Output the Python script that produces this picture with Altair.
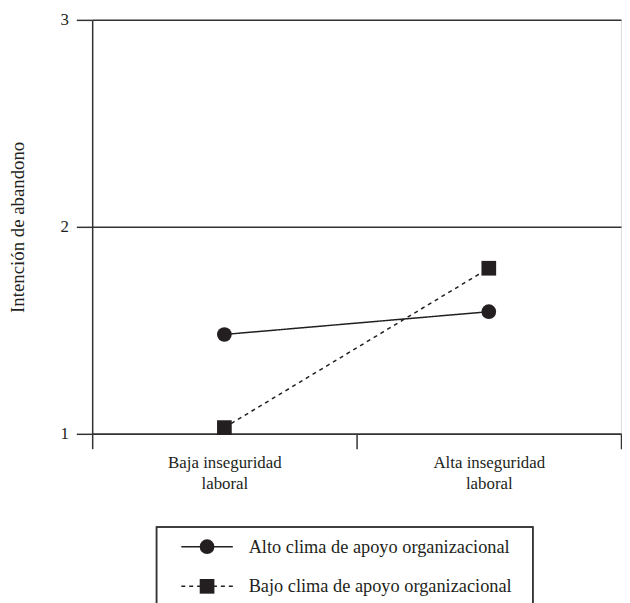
import altair as alt
import pandas as pd

categories = ["Baja inseguridad\nlaboral", "Alta inseguridad\nlaboral"]
series_names = ["Alto clima de apoyo organizacional", "Bajo clima de apoyo organizacional"]
alto_values = [1.48, 1.59]
bajo_values = [1.03, 1.80]
y_ticks = [1, 2, 3]

rows = []
for c, a, b in zip(categories, alto_values, bajo_values):
    rows.append({"cat": c, "serie": series_names[0], "valor": a})
    rows.append({"cat": c, "serie": series_names[1], "valor": b})
df = pd.DataFrame(rows)

FONT = "Times New Roman, Liberation Serif, serif"
INK = "#231f20"
W, H = 534, 418

shape_scale = alt.Scale(domain=series_names, range=["circle", "square"])
dash_scale = alt.Scale(domain=series_names, range=[[1, 0], [4, 4]])

x_enc = alt.X(
    "cat:N",
    sort=categories,
    scale=alt.Scale(paddingInner=0, paddingOuter=0),
    axis=alt.Axis(
        title=None,
        labelAngle=0,
        tickBand="extent",
        tickSize=15,
        tickColor="#333",
        tickWidth=1.5,
        domainColor="#333",
        domainWidth=1.5,
        labelExpr="split(datum.label, '\\n')",
        labelFont=FONT,
        labelFontSize=17,
        labelColor=INK,
        labelLineHeight=21,
        labelPadding=6,
        labelBaseline="top",
        grid=False,
    ),
)
y_enc = alt.Y(
    "valor:Q",
    scale=alt.Scale(domain=[1, 3], nice=False, zero=False),
    axis=alt.Axis(
        title="Intención de abandono",
        values=y_ticks,
        labelExpr="datum.value + ''",
        labelOverlap=False,
        tickSize=16,
        tickColor="#333",
        tickWidth=1.5,
        domainColor="#333",
        domainWidth=1.5,
        grid=True,
        gridColor="#333",
        gridWidth=1.5,
        labelFont=FONT,
        labelFontSize=17,
        labelColor=INK,
        labelPadding=8,
        titleFont=FONT,
        titleFontSize=19,
        titleFontWeight="normal",
        titleColor=INK,
        titlePadding=33,
    ),
)

lines = alt.Chart(df).mark_line(color=INK, strokeWidth=1.5).encode(
    x=x_enc,
    y=y_enc,
    detail="serie:N",
    strokeDash=alt.StrokeDash("serie:N", scale=dash_scale, legend=None),
)
points = alt.Chart(df).mark_point(filled=True, color=INK, opacity=1, size=220).encode(
    x=x_enc,
    y=y_enc,
    shape=alt.Shape("serie:N", scale=shape_scale, legend=None),
)

leg_df = pd.DataFrame({"serie": series_names})
legend_layers = []
box = alt.Chart(leg_df).mark_rect(fill=None, stroke="#333", strokeWidth=1.5, clip=False).encode(
    x=alt.value(65), x2=alt.value(445), y=alt.value(512), y2=alt.value(600)
)
legend_layers.append(box)
row_y = [532, 572]
for name, ry in zip(series_names, row_y):
    sub = alt.Chart(leg_df).transform_filter(alt.datum.serie == name)
    legend_layers.append(
        sub.mark_rule(color=INK, strokeWidth=1.5, clip=False).encode(
            x=alt.value(90), x2=alt.value(142), y=alt.value(ry),
            strokeDash=alt.StrokeDash("serie:N", scale=dash_scale, legend=None),
        )
    )
    legend_layers.append(
        sub.mark_point(filled=True, color=INK, opacity=1, size=220, clip=False).encode(
            x=alt.value(116), y=alt.value(ry),
            shape=alt.Shape("serie:N", scale=shape_scale, legend=None),
        )
    )
    legend_layers.append(
        sub.mark_text(align="left", baseline="middle", font=FONT, fontSize=18.5, color=INK, clip=False).encode(
            x=alt.value(158), y=alt.value(ry), text="serie:N"
        )
    )

chart = alt.layer(lines, points, *legend_layers).properties(
    width=W, height=H, padding={"left": 0, "top": 0, "right": 0, "bottom": 0}
).configure_view(stroke="#333", strokeWidth=1.5).configure(background="white")

chart.save("out.html", embed_options={"renderer": "svg", "actions": False})
